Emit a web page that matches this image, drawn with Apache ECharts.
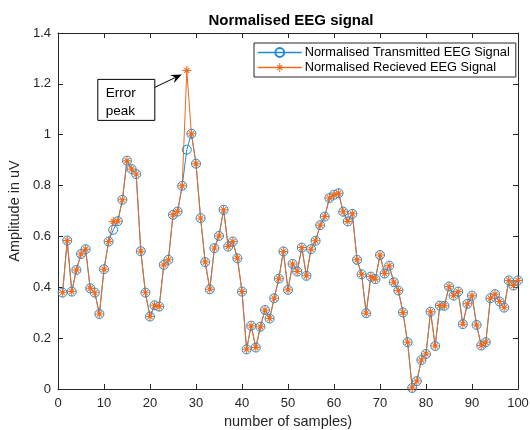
<!DOCTYPE html>
<html>
<head>
<meta charset="utf-8">
<script src="https://cdn.jsdelivr.net/npm/echarts@6/dist/echarts.min.js"></script>
<style>
  html, body { margin: 0; padding: 0; background: #fff; }
  #chart { width: 530px; height: 430px; }
</style>
</head>
<body>
<div id="chart"></div>
<script>
// Normalised EEG amplitudes, samples 1..100
const transmitted = [
  0.379, 0.584, 0.383, 0.468, 0.531, 0.550, 0.396, 0.379, 0.295, 0.471,
  0.580, 0.626, 0.660, 0.744, 0.898, 0.865, 0.845, 0.542, 0.379, 0.285,
  0.329, 0.324, 0.488, 0.508, 0.685, 0.698, 0.799, 0.941, 1.004, 0.886,
  0.672, 0.499, 0.392, 0.554, 0.602, 0.705, 0.560, 0.580, 0.514, 0.383,
  0.156, 0.249, 0.163, 0.245, 0.311, 0.277, 0.357, 0.434, 0.541, 0.390,
  0.492, 0.462, 0.556, 0.445, 0.550, 0.583, 0.644, 0.678, 0.751, 0.764,
  0.770, 0.697, 0.659, 0.689, 0.508, 0.451, 0.298, 0.442, 0.432, 0.527,
  0.454, 0.485, 0.420, 0.387, 0.301, 0.184, 0.004, 0.031, 0.114, 0.138,
  0.304, 0.169, 0.328, 0.327, 0.403, 0.367, 0.383, 0.255, 0.335, 0.367,
  0.252, 0.171, 0.184, 0.357, 0.373, 0.344, 0.320, 0.427, 0.407, 0.427
];
const received = [
  0.379, 0.584, 0.383, 0.468, 0.531, 0.550, 0.396, 0.379, 0.295, 0.471,
  0.580, 0.659, 0.660, 0.744, 0.898, 0.865, 0.845, 0.542, 0.379, 0.285,
  0.329, 0.324, 0.488, 0.508, 0.685, 0.698, 0.799, 1.253, 1.004, 0.886,
  0.672, 0.499, 0.392, 0.554, 0.602, 0.705, 0.560, 0.580, 0.514, 0.383,
  0.156, 0.249, 0.163, 0.245, 0.311, 0.277, 0.357, 0.434, 0.541, 0.390,
  0.492, 0.462, 0.556, 0.445, 0.550, 0.583, 0.644, 0.678, 0.751, 0.764,
  0.770, 0.697, 0.659, 0.689, 0.508, 0.451, 0.298, 0.442, 0.432, 0.527,
  0.454, 0.485, 0.420, 0.387, 0.301, 0.184, 0.004, 0.031, 0.114, 0.138,
  0.304, 0.169, 0.328, 0.327, 0.403, 0.367, 0.383, 0.255, 0.335, 0.367,
  0.252, 0.171, 0.184, 0.357, 0.373, 0.344, 0.320, 0.427, 0.407, 0.427
];
const seriesNames = ['Normalised Transmitted EEG Signal', 'Normalised Recieved EEG Signal'];
const peakSample = 28;
const peakValue = 1.253;

const FONT = '"Liberation Sans", Arial, Helvetica, sans-serif';
const AXIS_COLOR = '#262626';
const BLUE = '#1F8BD2';
const ORANGE = '#EF6A1E';

// Eight-armed asterisk marker built from filled bars
const ASTERISK = 'path://M-10,-1.1 L10,-1.1 L10,1.1 L-10,1.1 Z ' +
  'M-1.1,-10 L1.1,-10 L1.1,10 L-1.1,10 Z ' +
  'M-6.51,-4.81 L-4.81,-6.51 L6.51,4.81 L4.81,6.51 Z ' +
  'M-4.81,6.51 L-6.51,4.81 L4.81,-6.51 L6.51,-4.81 Z';

const toPairs = arr => arr.map((v, k) => [k + 1, v]);

const chart = echarts.init(document.getElementById('chart'), null, { renderer: 'canvas' });

const axisCommon = {
  axisLine: { show: true, onZero: false, lineStyle: { color: AXIS_COLOR, width: 1 } },
  axisTick: { show: true, inside: true, length: 5, lineStyle: { color: AXIS_COLOR } },
  splitLine: { show: false }
};

chart.setOption({
  animation: false,
  backgroundColor: '#fff',
  title: {
    text: 'Normalised EEG signal',
    left: 286, top: 8, textAlign: 'center',
    textStyle: { fontFamily: FONT, fontSize: 15, fontWeight: 'bold', color: '#000' }
  },
  grid: { left: 58, right: 12, top: 33, bottom: 41, containLabel: false, outerBoundsMode: 'none' },
  legend: {
    left: 254, top: 43, width: 259,
    orient: 'vertical',
    backgroundColor: '#fff',
    borderColor: AXIS_COLOR, borderWidth: 1, borderRadius: 0,
    padding: [3, 6, 3, 3],
    itemGap: 2, itemWidth: 44, itemHeight: 11,
    textStyle: { fontFamily: FONT, fontSize: 12.8, color: '#000', padding: [0, 0, 0, -2] },
    data: [
      { name: seriesNames[0], lineStyle: { color: BLUE, width: 1.5 } },
      { name: seriesNames[1], lineStyle: { color: ORANGE, width: 1.5 }, itemStyle: { color: ORANGE } }
    ]
  },
  xAxis: [
    Object.assign({
      type: 'value', min: 0, max: 100, interval: 10, position: 'bottom',
      name: 'number of samples)', nameLocation: 'middle', nameGap: 22,
      nameTextStyle: { fontFamily: FONT, fontSize: 14.5, color: AXIS_COLOR },
      axisLabel: { fontFamily: FONT, fontSize: 13, color: AXIS_COLOR, margin: 8 }
    }, axisCommon),
    Object.assign({
      type: 'value', min: 0, max: 100, interval: 10, position: 'top',
      axisLabel: { show: false }
    }, axisCommon)
  ],
  yAxis: [
    Object.assign({
      type: 'value', min: 0, max: 1.4, interval: 0.2, position: 'left',
      name: 'Amplitude in uV', nameLocation: 'middle', nameGap: 31,
      nameTextStyle: { fontFamily: FONT, fontSize: 14.5, color: AXIS_COLOR },
      axisLabel: { fontFamily: FONT, fontSize: 13, color: AXIS_COLOR, margin: 7 }
    }, axisCommon),
    Object.assign({
      type: 'value', min: 0, max: 1.4, interval: 0.2, position: 'right',
      axisLabel: { show: false }
    }, axisCommon)
  ],
  series: [
    {
      name: seriesNames[0],
      type: 'line',
      data: toPairs(transmitted),
      symbol: 'circle', symbolSize: 9,
      showAllSymbol: true,
      lineStyle: { color: BLUE, width: 1 },
      itemStyle: { color: 'rgba(255,255,255,0)', borderColor: BLUE, borderWidth: 1 }
    },
    {
      name: seriesNames[1],
      type: 'line',
      data: toPairs(received),
      symbol: ASTERISK, symbolSize: 9,
      showAllSymbol: true,
      lineStyle: { color: ORANGE, width: 1 },
      itemStyle: { color: ORANGE }
    }
  ]
});

// "Error peak" call-out, anchored to the peak sample through the axes
const tip0 = chart.convertToPixel({ xAxisIndex: 0, yAxisIndex: 0 }, [peakSample, peakValue]);
const tip = [tip0[0] - 5, tip0[1] + 4];
const boxX = tip0[0] - 89, boxY = tip0[1] + 9, boxW = 57, boxH = 41;
const tail = [boxX + boxW, boxY + 8];
const dx = tip[0] - tail[0], dy = tip[1] - tail[1];
const len = Math.sqrt(dx * dx + dy * dy);
const ux = dx / len, uy = dy / len, nx = -uy, ny = ux;
const headLen = 11, headHalf = 4.5, notch = 7;
const base = [tip[0] - headLen * ux, tip[1] - headLen * uy];
const notchPt = [tip[0] - notch * ux, tip[1] - notch * uy];

chart.setOption({
  graphic: [
    {
      type: 'rect',
      shape: { x: boxX, y: boxY, width: boxW, height: boxH },
      style: { fill: '#fff', stroke: '#000', lineWidth: 1 },
      z: 100
    },
    {
      type: 'text',
      x: boxX + 8, y: boxY + 5,
      style: { text: 'Error\npeak', fontFamily: FONT, fontSize: 13.5, lineHeight: 18, fill: '#000' },
      z: 101
    },
    {
      type: 'line',
      shape: { x1: tail[0], y1: tail[1], x2: notchPt[0], y2: notchPt[1] },
      style: { stroke: '#000', lineWidth: 1 },
      z: 100
    },
    {
      type: 'polygon',
      shape: { points: [
        tip,
        [base[0] + headHalf * nx, base[1] + headHalf * ny],
        notchPt,
        [base[0] - headHalf * nx, base[1] - headHalf * ny]
      ] },
      style: { fill: '#000' },
      z: 100
    }
  ]
});
</script>
</body>
</html>
